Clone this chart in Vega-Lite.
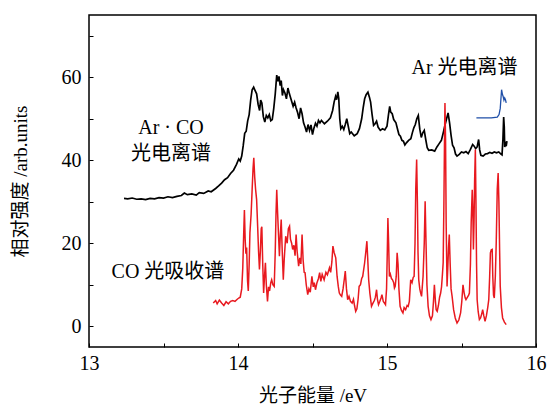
{
"$schema": "https://vega.github.io/schema/vega-lite/v6.json",
"width": 447, "height": 332,
"autosize": {"type": "none"},
"padding": {"left": 89, "top": 15, "right": 11, "bottom": 59},
"background": "white",
"config": {"view": {"stroke": "#000", "strokeWidth": 1.5}, "font": "'Liberation Serif', 'Noto Sans CJK SC'"},
"datasets": {
"curves": [
{"s":"ArCO","x":13.235,"y":30.8},{"s":"ArCO","x":13.26,"y":30.7},{"s":"ArCO","x":13.29,"y":30.9},{"s":"ArCO","x":13.32,"y":30.6},{"s":"ArCO","x":13.35,"y":30.7},{"s":"ArCO","x":13.38,"y":30.5},{"s":"ArCO","x":13.41,"y":30.8},{"s":"ArCO","x":13.44,"y":30.7},{"s":"ArCO","x":13.47,"y":31.0},{"s":"ArCO","x":13.5,"y":30.9},{"s":"ArCO","x":13.53,"y":31.2},{"s":"ArCO","x":13.56,"y":31.0},{"s":"ArCO","x":13.59,"y":31.3},{"s":"ArCO","x":13.62,"y":31.5},{"s":"ArCO","x":13.64,"y":32.1},{"s":"ArCO","x":13.66,"y":31.7},{"s":"ArCO","x":13.69,"y":31.9},{"s":"ArCO","x":13.72,"y":31.6},{"s":"ArCO","x":13.74,"y":32.2},{"s":"ArCO","x":13.77,"y":32.0},{"s":"ArCO","x":13.8,"y":32.6},{"s":"ArCO","x":13.82,"y":32.4},{"s":"ArCO","x":13.85,"y":33.2},{"s":"ArCO","x":13.87,"y":33.8},{"s":"ArCO","x":13.89,"y":34.5},{"s":"ArCO","x":13.91,"y":35.3},{"s":"ArCO","x":13.93,"y":35.8},{"s":"ArCO","x":13.95,"y":36.8},{"s":"ArCO","x":13.97,"y":37.6},{"s":"ArCO","x":13.99,"y":39.0},{"s":"ArCO","x":14.005,"y":40.3},{"s":"ArCO","x":14.015,"y":39.8},{"s":"ArCO","x":14.025,"y":41.0},{"s":"ArCO","x":14.035,"y":43.5},{"s":"ArCO","x":14.045,"y":46.5},{"s":"ArCO","x":14.055,"y":47.0},{"s":"ArCO","x":14.065,"y":49.5},{"s":"ArCO","x":14.075,"y":51.0},{"s":"ArCO","x":14.085,"y":54.5},{"s":"ArCO","x":14.095,"y":57.0},{"s":"ArCO","x":14.105,"y":57.6},{"s":"ArCO","x":14.115,"y":56.8},{"s":"ArCO","x":14.125,"y":56.0},{"s":"ArCO","x":14.135,"y":53.5},{"s":"ArCO","x":14.145,"y":52.0},{"s":"ArCO","x":14.152,"y":54.5},{"s":"ArCO","x":14.16,"y":53.8},{"s":"ArCO","x":14.17,"y":50.5},{"s":"ArCO","x":14.18,"y":49.2},{"s":"ArCO","x":14.19,"y":50.8},{"s":"ArCO","x":14.2,"y":50.2},{"s":"ArCO","x":14.21,"y":51.0},{"s":"ArCO","x":14.22,"y":49.5},{"s":"ArCO","x":14.23,"y":49.8},{"s":"ArCO","x":14.24,"y":52.5},{"s":"ArCO","x":14.25,"y":56.0},{"s":"ArCO","x":14.26,"y":60.5},{"s":"ArCO","x":14.268,"y":59.0},{"s":"ArCO","x":14.275,"y":60.2},{"s":"ArCO","x":14.283,"y":58.0},{"s":"ArCO","x":14.29,"y":59.2},{"s":"ArCO","x":14.298,"y":55.6},{"s":"ArCO","x":14.305,"y":57.0},{"s":"ArCO","x":14.315,"y":56.2},{"s":"ArCO","x":14.325,"y":54.8},{"s":"ArCO","x":14.335,"y":57.4},{"s":"ArCO","x":14.345,"y":56.0},{"s":"ArCO","x":14.36,"y":54.2},{"s":"ArCO","x":14.37,"y":53.0},{"s":"ArCO","x":14.38,"y":54.0},{"s":"ArCO","x":14.39,"y":52.6},{"s":"ArCO","x":14.4,"y":51.5},{"s":"ArCO","x":14.41,"y":50.0},{"s":"ArCO","x":14.42,"y":52.6},{"s":"ArCO","x":14.43,"y":51.2},{"s":"ArCO","x":14.44,"y":49.0},{"s":"ArCO","x":14.45,"y":48.0},{"s":"ArCO","x":14.46,"y":46.8},{"s":"ArCO","x":14.47,"y":48.6},{"s":"ArCO","x":14.48,"y":47.2},{"s":"ArCO","x":14.49,"y":48.5},{"s":"ArCO","x":14.5,"y":46.2},{"s":"ArCO","x":14.51,"y":47.8},{"s":"ArCO","x":14.52,"y":48.9},{"s":"ArCO","x":14.53,"y":48.2},{"s":"ArCO","x":14.54,"y":49.6},{"s":"ArCO","x":14.55,"y":49.0},{"s":"ArCO","x":14.56,"y":49.6},{"s":"ArCO","x":14.58,"y":48.8},{"s":"ArCO","x":14.6,"y":49.4},{"s":"ArCO","x":14.62,"y":50.2},{"s":"ArCO","x":14.635,"y":52.0},{"s":"ArCO","x":14.645,"y":54.0},{"s":"ArCO","x":14.655,"y":55.4},{"s":"ArCO","x":14.662,"y":54.6},{"s":"ArCO","x":14.67,"y":56.5},{"s":"ArCO","x":14.676,"y":55.0},{"s":"ArCO","x":14.683,"y":50.0},{"s":"ArCO","x":14.69,"y":47.6},{"s":"ArCO","x":14.7,"y":48.2},{"s":"ArCO","x":14.71,"y":47.4},{"s":"ArCO","x":14.72,"y":48.6},{"s":"ArCO","x":14.73,"y":50.0},{"s":"ArCO","x":14.74,"y":48.2},{"s":"ArCO","x":14.75,"y":46.4},{"s":"ArCO","x":14.76,"y":46.8},{"s":"ArCO","x":14.78,"y":45.9},{"s":"ArCO","x":14.8,"y":46.4},{"s":"ArCO","x":14.815,"y":47.6},{"s":"ArCO","x":14.83,"y":50.0},{"s":"ArCO","x":14.84,"y":52.6},{"s":"ArCO","x":14.85,"y":54.8},{"s":"ArCO","x":14.86,"y":55.8},{"s":"ArCO","x":14.872,"y":56.4},{"s":"ArCO","x":14.882,"y":55.2},{"s":"ArCO","x":14.89,"y":54.0},{"s":"ArCO","x":14.9,"y":51.0},{"s":"ArCO","x":14.91,"y":48.4},{"s":"ArCO","x":14.92,"y":48.8},{"s":"ArCO","x":14.93,"y":49.4},{"s":"ArCO","x":14.94,"y":48.0},{"s":"ArCO","x":14.955,"y":47.2},{"s":"ArCO","x":14.97,"y":47.6},{"s":"ArCO","x":14.985,"y":47.3},{"s":"ArCO","x":15.0,"y":48.2},{"s":"ArCO","x":15.01,"y":51.0},{"s":"ArCO","x":15.018,"y":53.0},{"s":"ArCO","x":15.025,"y":51.6},{"s":"ArCO","x":15.035,"y":51.2},{"s":"ArCO","x":15.045,"y":49.8},{"s":"ArCO","x":15.06,"y":49.0},{"s":"ArCO","x":15.07,"y":47.6},{"s":"ArCO","x":15.08,"y":46.2},{"s":"ArCO","x":15.09,"y":45.8},{"s":"ArCO","x":15.1,"y":44.8},{"s":"ArCO","x":15.11,"y":44.6},{"s":"ArCO","x":15.12,"y":43.7},{"s":"ArCO","x":15.13,"y":44.2},{"s":"ArCO","x":15.145,"y":44.8},{"s":"ArCO","x":15.16,"y":45.2},{"s":"ArCO","x":15.17,"y":46.6},{"s":"ArCO","x":15.18,"y":47.8},{"s":"ArCO","x":15.19,"y":48.6},{"s":"ArCO","x":15.2,"y":50.0},{"s":"ArCO","x":15.21,"y":50.8},{"s":"ArCO","x":15.22,"y":47.5},{"s":"ArCO","x":15.23,"y":45.5},{"s":"ArCO","x":15.24,"y":46.6},{"s":"ArCO","x":15.25,"y":47.2},{"s":"ArCO","x":15.26,"y":45.0},{"s":"ArCO","x":15.27,"y":43.0},{"s":"ArCO","x":15.28,"y":42.4},{"s":"ArCO","x":15.3,"y":42.5},{"s":"ArCO","x":15.32,"y":42.2},{"s":"ArCO","x":15.335,"y":43.2},{"s":"ArCO","x":15.35,"y":44.0},{"s":"ArCO","x":15.365,"y":44.8},{"s":"ArCO","x":15.38,"y":47.0},{"s":"ArCO","x":15.39,"y":48.6},{"s":"ArCO","x":15.4,"y":50.0},{"s":"ArCO","x":15.41,"y":51.4},{"s":"ArCO","x":15.42,"y":49.0},{"s":"ArCO","x":15.43,"y":46.0},{"s":"ArCO","x":15.44,"y":43.6},{"s":"ArCO","x":15.45,"y":43.0},{"s":"ArCO","x":15.46,"y":41.5},{"s":"ArCO","x":15.47,"y":41.0},{"s":"ArCO","x":15.485,"y":41.4},{"s":"ArCO","x":15.5,"y":42.0},{"s":"ArCO","x":15.515,"y":41.8},{"s":"ArCO","x":15.53,"y":42.1},{"s":"ArCO","x":15.545,"y":41.6},{"s":"ArCO","x":15.56,"y":42.6},{"s":"ArCO","x":15.575,"y":43.8},{"s":"ArCO","x":15.585,"y":43.4},{"s":"ArCO","x":15.595,"y":42.8},{"s":"ArCO","x":15.605,"y":43.2},{"s":"ArCO","x":15.615,"y":45.0},{"s":"ArCO","x":15.622,"y":42.5},{"s":"ArCO","x":15.63,"y":41.2},{"s":"ArCO","x":15.645,"y":41.0},{"s":"ArCO","x":15.66,"y":41.5},{"s":"ArCO","x":15.675,"y":41.6},{"s":"ArCO","x":15.69,"y":41.9},{"s":"ArCO","x":15.705,"y":41.7},{"s":"ArCO","x":15.72,"y":42.0},{"s":"ArCO","x":15.735,"y":41.8},{"s":"ArCO","x":15.75,"y":42.0},{"s":"ArCO","x":15.765,"y":41.5},{"s":"ArCO","x":15.772,"y":41.3},{"s":"ArCO","x":15.778,"y":45.0},{"s":"ArCO","x":15.783,"y":50.4},{"s":"ArCO","x":15.787,"y":48.0},{"s":"ArCO","x":15.79,"y":43.2},{"s":"ArCO","x":15.795,"y":44.0},{"s":"ArCO","x":15.8,"y":43.4},{"s":"ArCO","x":15.805,"y":44.6},
{"s":"CO","x":13.834,"y":5.6},{"s":"CO","x":13.85,"y":6.2},{"s":"CO","x":13.86,"y":5.4},{"s":"CO","x":13.875,"y":6.3},{"s":"CO","x":13.89,"y":5.6},{"s":"CO","x":13.905,"y":5.0},{"s":"CO","x":13.92,"y":5.9},{"s":"CO","x":13.935,"y":5.4},{"s":"CO","x":13.95,"y":6.0},{"s":"CO","x":13.965,"y":6.2},{"s":"CO","x":13.98,"y":6.0},{"s":"CO","x":13.995,"y":6.5},{"s":"CO","x":14.005,"y":6.8},{"s":"CO","x":14.015,"y":7.0},{"s":"CO","x":14.025,"y":9.0},{"s":"CO","x":14.032,"y":14.0},{"s":"CO","x":14.038,"y":22.0},{"s":"CO","x":14.043,"y":28.0},{"s":"CO","x":14.048,"y":21.0},{"s":"CO","x":14.053,"y":17.5},{"s":"CO","x":14.058,"y":19.0},{"s":"CO","x":14.064,"y":11.0},{"s":"CO","x":14.069,"y":8.5},{"s":"CO","x":14.075,"y":15.0},{"s":"CO","x":14.08,"y":22.5},{"s":"CO","x":14.088,"y":27.0},{"s":"CO","x":14.095,"y":33.0},{"s":"CO","x":14.101,"y":38.0},{"s":"CO","x":14.106,"y":40.6},{"s":"CO","x":14.112,"y":36.0},{"s":"CO","x":14.118,"y":33.0},{"s":"CO","x":14.125,"y":30.5},{"s":"CO","x":14.132,"y":24.0},{"s":"CO","x":14.138,"y":18.0},{"s":"CO","x":14.144,"y":13.7},{"s":"CO","x":14.15,"y":18.0},{"s":"CO","x":14.156,"y":23.5},{"s":"CO","x":14.16,"y":24.0},{"s":"CO","x":14.166,"y":15.0},{"s":"CO","x":14.172,"y":8.0},{"s":"CO","x":14.178,"y":12.0},{"s":"CO","x":14.184,"y":15.3},{"s":"CO","x":14.19,"y":10.0},{"s":"CO","x":14.198,"y":6.0},{"s":"CO","x":14.205,"y":9.5},{"s":"CO","x":14.212,"y":8.5},{"s":"CO","x":14.22,"y":10.5},{"s":"CO","x":14.226,"y":11.2},{"s":"CO","x":14.234,"y":10.0},{"s":"CO","x":14.243,"y":9.6},{"s":"CO","x":14.25,"y":18.0},{"s":"CO","x":14.255,"y":27.0},{"s":"CO","x":14.26,"y":32.9},{"s":"CO","x":14.265,"y":28.0},{"s":"CO","x":14.272,"y":22.0},{"s":"CO","x":14.278,"y":16.9},{"s":"CO","x":14.284,"y":22.0},{"s":"CO","x":14.29,"y":25.7},{"s":"CO","x":14.297,"y":18.0},{"s":"CO","x":14.304,"y":11.2},{"s":"CO","x":14.31,"y":16.0},{"s":"CO","x":14.32,"y":21.7},{"s":"CO","x":14.33,"y":20.0},{"s":"CO","x":14.338,"y":23.5},{"s":"CO","x":14.346,"y":24.1},{"s":"CO","x":14.352,"y":21.0},{"s":"CO","x":14.36,"y":20.0},{"s":"CO","x":14.367,"y":18.5},{"s":"CO","x":14.375,"y":19.5},{"s":"CO","x":14.383,"y":17.0},{"s":"CO","x":14.39,"y":22.1},{"s":"CO","x":14.397,"y":18.0},{"s":"CO","x":14.407,"y":14.5},{"s":"CO","x":14.415,"y":16.5},{"s":"CO","x":14.422,"y":15.0},{"s":"CO","x":14.43,"y":22.1},{"s":"CO","x":14.437,"y":16.0},{"s":"CO","x":14.444,"y":13.0},{"s":"CO","x":14.45,"y":12.9},{"s":"CO","x":14.458,"y":10.0},{"s":"CO","x":14.468,"y":7.6},{"s":"CO","x":14.476,"y":9.0},{"s":"CO","x":14.485,"y":8.2},{"s":"CO","x":14.496,"y":12.0},{"s":"CO","x":14.505,"y":9.5},{"s":"CO","x":14.512,"y":10.5},{"s":"CO","x":14.52,"y":8.8},{"s":"CO","x":14.53,"y":10.5},{"s":"CO","x":14.54,"y":11.5},{"s":"CO","x":14.548,"y":12.9},{"s":"CO","x":14.556,"y":10.8},{"s":"CO","x":14.565,"y":12.5},{"s":"CO","x":14.578,"y":11.2},{"s":"CO","x":14.59,"y":13.0},{"s":"CO","x":14.6,"y":12.4},{"s":"CO","x":14.614,"y":14.1},{"s":"CO","x":14.622,"y":13.0},{"s":"CO","x":14.63,"y":15.5},{"s":"CO","x":14.637,"y":19.3},{"s":"CO","x":14.645,"y":17.8},{"s":"CO","x":14.656,"y":16.5},{"s":"CO","x":14.665,"y":12.0},{"s":"CO","x":14.673,"y":9.6},{"s":"CO","x":14.68,"y":8.0},{"s":"CO","x":14.688,"y":7.5},{"s":"CO","x":14.696,"y":7.2},{"s":"CO","x":14.705,"y":9.0},{"s":"CO","x":14.714,"y":11.5},{"s":"CO","x":14.72,"y":13.3},{"s":"CO","x":14.728,"y":9.0},{"s":"CO","x":14.736,"y":6.4},{"s":"CO","x":14.745,"y":7.2},{"s":"CO","x":14.755,"y":6.0},{"s":"CO","x":14.766,"y":5.6},{"s":"CO","x":14.775,"y":6.5},{"s":"CO","x":14.782,"y":5.0},{"s":"CO","x":14.79,"y":3.6},{"s":"CO","x":14.798,"y":4.2},{"s":"CO","x":14.806,"y":6.5},{"s":"CO","x":14.813,"y":9.6},{"s":"CO","x":14.822,"y":10.0},{"s":"CO","x":14.83,"y":11.5},{"s":"CO","x":14.837,"y":12.0},{"s":"CO","x":14.843,"y":13.5},{"s":"CO","x":14.85,"y":15.3},{"s":"CO","x":14.858,"y":18.0},{"s":"CO","x":14.865,"y":20.5},{"s":"CO","x":14.871,"y":16.0},{"s":"CO","x":14.877,"y":11.2},{"s":"CO","x":14.885,"y":8.0},{"s":"CO","x":14.896,"y":4.8},{"s":"CO","x":14.905,"y":5.5},{"s":"CO","x":14.915,"y":6.2},{"s":"CO","x":14.922,"y":7.0},{"s":"CO","x":14.93,"y":8.8},{"s":"CO","x":14.936,"y":6.5},{"s":"CO","x":14.943,"y":5.2},{"s":"CO","x":14.952,"y":6.0},{"s":"CO","x":14.96,"y":6.8},{"s":"CO","x":14.966,"y":7.6},{"s":"CO","x":14.975,"y":6.0},{"s":"CO","x":14.983,"y":5.6},{"s":"CO","x":14.99,"y":5.2},{"s":"CO","x":14.997,"y":9.0},{"s":"CO","x":15.002,"y":18.0},{"s":"CO","x":15.006,"y":26.1},{"s":"CO","x":15.011,"y":20.0},{"s":"CO","x":15.016,"y":12.0},{"s":"CO","x":15.022,"y":12.6},{"s":"CO","x":15.03,"y":11.5},{"s":"CO","x":15.037,"y":11.2},{"s":"CO","x":15.045,"y":10.5},{"s":"CO","x":15.05,"y":9.2},{"s":"CO","x":15.055,"y":9.6},{"s":"CO","x":15.062,"y":12.0},{"s":"CO","x":15.068,"y":17.7},{"s":"CO","x":15.074,"y":15.0},{"s":"CO","x":15.08,"y":9.0},{"s":"CO","x":15.088,"y":4.8},{"s":"CO","x":15.097,"y":3.8},{"s":"CO","x":15.107,"y":3.2},{"s":"CO","x":15.115,"y":4.5},{"s":"CO","x":15.125,"y":4.0},{"s":"CO","x":15.135,"y":5.0},{"s":"CO","x":15.142,"y":4.8},{"s":"CO","x":15.15,"y":6.0},{"s":"CO","x":15.159,"y":11.2},{"s":"CO","x":15.168,"y":10.5},{"s":"CO","x":15.176,"y":11.8},{"s":"CO","x":15.182,"y":12.0},{"s":"CO","x":15.188,"y":20.0},{"s":"CO","x":15.193,"y":33.0},{"s":"CO","x":15.199,"y":40.2},{"s":"CO","x":15.204,"y":30.0},{"s":"CO","x":15.208,"y":18.0},{"s":"CO","x":15.213,"y":11.2},{"s":"CO","x":15.22,"y":9.0},{"s":"CO","x":15.226,"y":8.0},{"s":"CO","x":15.232,"y":7.2},{"s":"CO","x":15.242,"y":12.0},{"s":"CO","x":15.25,"y":20.0},{"s":"CO","x":15.256,"y":30.1},{"s":"CO","x":15.262,"y":20.0},{"s":"CO","x":15.268,"y":10.0},{"s":"CO","x":15.276,"y":4.8},{"s":"CO","x":15.285,"y":2.5},{"s":"CO","x":15.295,"y":1.6},{"s":"CO","x":15.305,"y":2.5},{"s":"CO","x":15.312,"y":6.0},{"s":"CO","x":15.318,"y":10.0},{"s":"CO","x":15.325,"y":6.0},{"s":"CO","x":15.33,"y":4.0},{"s":"CO","x":15.337,"y":3.6},{"s":"CO","x":15.345,"y":5.0},{"s":"CO","x":15.353,"y":7.0},{"s":"CO","x":15.36,"y":8.0},{"s":"CO","x":15.366,"y":9.5},{"s":"CO","x":15.372,"y":12.5},{"s":"CO","x":15.377,"y":15.3},{"s":"CO","x":15.382,"y":30.0},{"s":"CO","x":15.386,"y":45.0},{"s":"CO","x":15.389,"y":53.8},{"s":"CO","x":15.393,"y":45.0},{"s":"CO","x":15.397,"y":25.0},{"s":"CO","x":15.403,"y":9.6},{"s":"CO","x":15.408,"y":14.0},{"s":"CO","x":15.413,"y":19.0},{"s":"CO","x":15.418,"y":22.1},{"s":"CO","x":15.424,"y":15.0},{"s":"CO","x":15.43,"y":9.0},{"s":"CO","x":15.437,"y":7.2},{"s":"CO","x":15.447,"y":4.0},{"s":"CO","x":15.458,"y":2.0},{"s":"CO","x":15.47,"y":0.8},{"s":"CO","x":15.482,"y":1.5},{"s":"CO","x":15.494,"y":3.2},{"s":"CO","x":15.502,"y":6.0},{"s":"CO","x":15.51,"y":10.0},{"s":"CO","x":15.518,"y":8.0},{"s":"CO","x":15.525,"y":6.8},{"s":"CO","x":15.53,"y":6.4},{"s":"CO","x":15.54,"y":7.0},{"s":"CO","x":15.548,"y":7.5},{"s":"CO","x":15.553,"y":8.0},{"s":"CO","x":15.56,"y":15.0},{"s":"CO","x":15.565,"y":25.0},{"s":"CO","x":15.572,"y":32.9},{"s":"CO","x":15.576,"y":28.0},{"s":"CO","x":15.58,"y":18.5},{"s":"CO","x":15.584,"y":25.0},{"s":"CO","x":15.588,"y":35.0},{"s":"CO","x":15.593,"y":42.6},{"s":"CO","x":15.597,"y":30.0},{"s":"CO","x":15.601,"y":15.0},{"s":"CO","x":15.605,"y":6.4},{"s":"CO","x":15.612,"y":3.5},{"s":"CO","x":15.62,"y":1.6},{"s":"CO","x":15.628,"y":2.0},{"s":"CO","x":15.636,"y":3.0},{"s":"CO","x":15.642,"y":4.0},{"s":"CO","x":15.65,"y":2.5},{"s":"CO","x":15.658,"y":1.2},{"s":"CO","x":15.667,"y":2.5},{"s":"CO","x":15.676,"y":4.5},{"s":"CO","x":15.683,"y":6.4},{"s":"CO","x":15.689,"y":12.0},{"s":"CO","x":15.694,"y":17.7},{"s":"CO","x":15.7,"y":18.4},{"s":"CO","x":15.706,"y":18.5},{"s":"CO","x":15.71,"y":12.0},{"s":"CO","x":15.715,"y":7.5},{"s":"CO","x":15.72,"y":6.8},{"s":"CO","x":15.727,"y":12.0},{"s":"CO","x":15.733,"y":20.0},{"s":"CO","x":15.74,"y":33.0},{"s":"CO","x":15.746,"y":36.9},{"s":"CO","x":15.751,"y":30.0},{"s":"CO","x":15.756,"y":18.0},{"s":"CO","x":15.76,"y":9.6},{"s":"CO","x":15.768,"y":4.5},{"s":"CO","x":15.776,"y":2.0},{"s":"CO","x":15.788,"y":1.0},{"s":"CO","x":15.8,"y":0.4},
{"s":"Ar","x":15.6,"y":50.2},{"s":"Ar","x":15.65,"y":50.2},{"s":"Ar","x":15.7,"y":50.2},{"s":"Ar","x":15.74,"y":50.4},{"s":"Ar","x":15.752,"y":51.0},{"s":"Ar","x":15.76,"y":52.5},{"s":"Ar","x":15.765,"y":55.0},{"s":"Ar","x":15.769,"y":57.0},{"s":"Ar","x":15.774,"y":56.0},{"s":"Ar","x":15.78,"y":55.3},{"s":"Ar","x":15.785,"y":54.5},{"s":"Ar","x":15.79,"y":55.0},{"s":"Ar","x":15.795,"y":54.6},{"s":"Ar","x":15.8,"y":53.8}
],
"labels": [{"one": 1}]
},
"layer": [
{
"data": {"name": "curves"},
"mark": {"type": "line", "clip": true},
"encoding": {
"x": {"field": "x", "type": "quantitative",
 "scale": {"domain": [13, 16], "nice": false, "zero": false},
 "axis": {"values": [13, 13.25, 13.5, 13.75, 14, 14.25, 14.5, 14.75, 15, 15.25, 15.5, 15.75, 16],
  "format": "~g",
  "labelExpr": "datum.value % 1 === 0 ? datum.label : ''",
  "grid": false, "domain": false, "tickSize": -4, "tickColor": "#000", "tickWidth": 1,
  "labelFont": "'Liberation Serif'", "labelFontSize": 20, "labelColor": "#000", "labelPadding": 10, "labelFlush": false, "labelOverlap": false,
  "title": "光子能量 /eV", "titleFont": "'Liberation Serif', 'Noto Sans CJK SC'", "titleFontSize": 19, "titleFontWeight": "normal", "titleColor": "#000", "titlePadding": 13}},
"y": {"field": "y", "type": "quantitative",
 "scale": {"domain": [-5, 75], "nice": false, "zero": false},
 "axis": {"values": [0, 10, 20, 30, 40, 50, 60, 70],
  "labelExpr": "datum.value % 20 === 0 ? datum.label : ''",
  "grid": false, "domain": false, "tickSize": -4, "tickColor": "#000", "tickWidth": 1,
  "labelFont": "'Liberation Serif'", "labelFontSize": 20, "labelColor": "#000", "labelPadding": 12, "labelOverlap": false,
  "title": "相对强度 /arb.units", "titleFont": "'Liberation Serif', 'Noto Sans CJK SC'", "titleFontSize": 19, "titleFontWeight": "normal", "titleColor": "#000", "titlePadding": 31}},
"color": {"field": "s", "type": "nominal", "scale": {"domain": ["ArCO", "CO", "Ar"], "range": ["#000000", "#e8191f", "#1f4fa8"]}, "legend": null},
"strokeWidth": {"field": "s", "type": "nominal", "scale": {"domain": ["ArCO", "CO", "Ar"], "range": [1.7, 1.3, 1.5]}, "legend": null}
}
},
{"data": {"name": "labels"},
 "mark": {"type": "text", "font": "'Liberation Serif', 'Noto Sans CJK SC'", "fontSize": 20, "align": "center", "baseline": "middle", "color": "#000"},
 "encoding": {"x": {"datum": 13.55, "type": "quantitative"}, "y": {"datum": 47.8, "type": "quantitative"}, "text": {"value": "Ar · CO"}}},
{"data": {"name": "labels"},
 "mark": {"type": "text", "font": "'Liberation Serif', 'Noto Sans CJK SC'", "fontSize": 20, "align": "center", "baseline": "middle", "color": "#000"},
 "encoding": {"x": {"datum": 13.55, "type": "quantitative"}, "y": {"datum": 41.6, "type": "quantitative"}, "text": {"value": "光电离谱"}}},
{"data": {"name": "labels"},
 "mark": {"type": "text", "font": "'Liberation Serif', 'Noto Sans CJK SC'", "fontSize": 20, "align": "center", "baseline": "middle", "color": "#000"},
 "encoding": {"x": {"datum": 15.52, "type": "quantitative"}, "y": {"datum": 62.2, "type": "quantitative"}, "text": {"value": "Ar 光电离谱"}}},
{"data": {"name": "labels"},
 "mark": {"type": "text", "font": "'Liberation Serif', 'Noto Sans CJK SC'", "fontSize": 20, "align": "center", "baseline": "middle", "color": "#000"},
 "encoding": {"x": {"datum": 13.53, "type": "quantitative"}, "y": {"datum": 13.0, "type": "quantitative"}, "text": {"value": "CO 光吸收谱"}}}
]
}
